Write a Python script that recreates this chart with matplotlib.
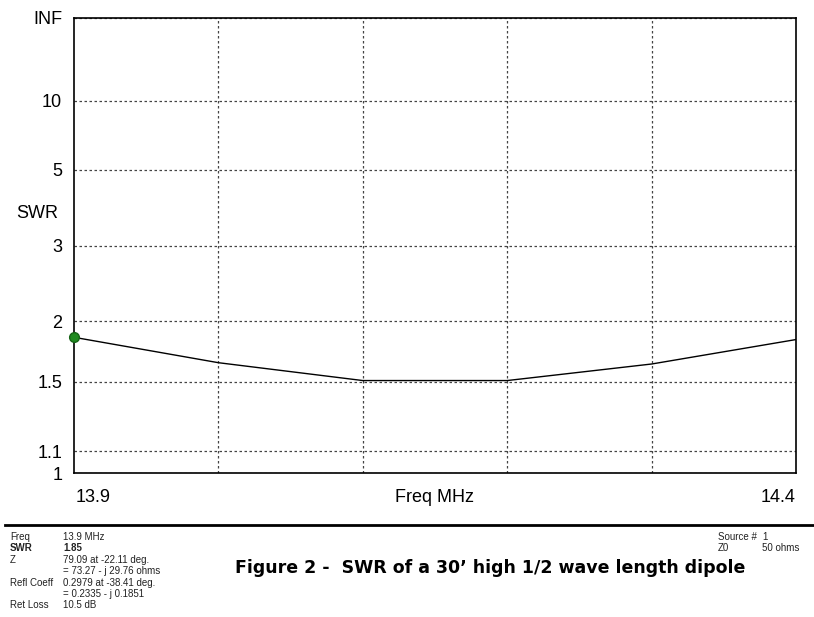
import numpy as np
import matplotlib.pyplot as plt

plt.rcParams['font.family'] = ['Liberation Sans', 'DejaVu Sans']

freq = [13.9, 14.0, 14.1, 14.2, 14.3, 14.4]
swr = [1.85, 1.64, 1.51, 1.51, 1.63, 1.83]
swr_ticks = [1, 1.1, 1.5, 2, 3, 5, 10, np.inf]
swr_tick_labels = ['1', '1.1', '1.5', '2', '3', '5', '10', 'INF']

info_labels = ['Freq', 'SWR', 'Z', '', 'Refl Coeff', '', 'Ret Loss']
info_values = ['13.9 MHz', '1.85', '79.09 at -22.11 deg.', '= 73.27 - j 29.76 ohms',
               '0.2979 at -38.41 deg.', '= 0.2335 - j 0.1851', '10.5 dB']
src_labels = ['Source #', 'Z0']
src_values = ['1', '50 ohms']


def rho(s):
    # reflection coefficient scale used by the SWR axis
    s = np.asarray(s, dtype=float)
    return np.where(np.isinf(s), 1.0, (s - 1) / (s + 1))


fig = plt.figure(figsize=(8.14, 6.17), dpi=100)
ax = fig.add_axes([74 / 814, 1 - 473 / 617, 722 / 814, 455 / 617])

ax.plot(freq, rho(swr), color='black', lw=1.0)
ax.plot(freq[0], rho(swr[0]), 'o', color='#1f8a1f', markersize=7,
        markeredgecolor='#156315', zorder=5, clip_on=False)

ax.set_xlim(13.9, 14.4)
ax.set_ylim(0, 1)
ax.set_yticks(rho(swr_ticks))
ax.set_yticklabels(swr_tick_labels, fontsize=13)
ax.set_xticks([14.0, 14.1, 14.2, 14.3])
ax.set_xticklabels([])
ax.tick_params(length=0, pad=8.5)
ax.grid(True, linestyle=(0, (2, 2)), color='#444444', lw=0.9)
for sp in ax.spines.values():
    sp.set_color('black')
    sp.set_linewidth(1.2)

fig.text(16 / 814, 1 - 213 / 617, 'SWR', fontsize=13, va='center')
fig.text(76 / 814, 1 - 498 / 617, '13.9', fontsize=13, va='center')
fig.text(796 / 814, 1 - 498 / 617, '14.4', fontsize=13, va='center', ha='right')
fig.text(435 / 814, 1 - 497 / 617, 'Freq MHz', fontsize=13, va='center', ha='center')

fig.add_artist(plt.Line2D([5 / 814, 1], [1 - 525 / 617] * 2, color='black', lw=2,
                          transform=fig.transFigure))

for i, (lab, val) in enumerate(zip(info_labels, info_values)):
    y = 1 - (537 + i * 11.4) / 617
    w = 'bold' if lab == 'SWR' else 'normal'
    fig.text(10 / 814, y, lab, fontsize=7, va='center', weight=w, color='#222222')
    fig.text(63 / 814, y, val, fontsize=7, va='center', weight=w, color='#222222')

for i, (lab, val) in enumerate(zip(src_labels, src_values)):
    y = 1 - (537 + i * 11.4) / 617
    fig.text(718 / 814, y, lab, fontsize=7, va='center', color='#222222')
    fig.text(762 / 814, y, val, fontsize=7, va='center', color='#222222')

fig.text(490 / 814, 1 - 568 / 617, 'Figure 2 -  SWR of a 30\u2019 high 1/2 wave length dipole',
         fontsize=12.5, weight='bold', family='DejaVu Sans', ha='center', va='center')

fig.savefig('out.png', dpi=100, facecolor='white')
